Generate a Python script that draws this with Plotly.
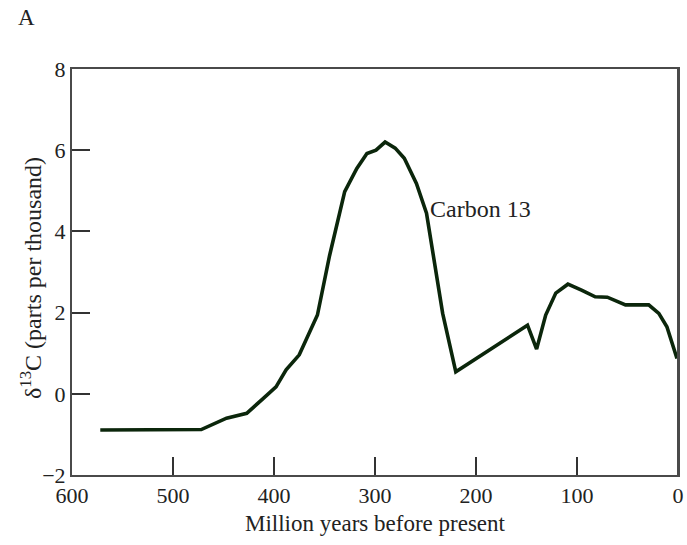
import plotly.graph_objects as go

# Data (million years before present, delta13C per mil)
age_myr = [572, 540, 510, 472, 447, 427, 410, 398, 388, 375, 357, 345, 330, 318, 308, 299, 290, 280, 271, 259, 249, 233, 220, 185, 149, 140, 131, 121, 109, 95, 82, 70, 52, 29, 19, 11, 1]
d13c = [-0.89, -0.89, -0.89, -0.88, -0.6, -0.48, -0.1, 0.17, 0.59, 0.96, 1.94, 3.4, 4.98, 5.55, 5.92, 6.0, 6.2, 6.05, 5.8, 5.18, 4.45, 1.98, 0.54, 1.1, 1.69, 1.1, 1.94, 2.48, 2.7, 2.55, 2.39, 2.38, 2.19, 2.19, 1.98, 1.65, 0.87]

x_ticks = [600, 500, 400, 300, 200, 100, 0]
y_ticks = [-2, 0, 2, 4, 6, 8]

FONT = "Liberation Serif"
TXT = "#222222"
AXIS = "#4a4a4a"

fig = go.Figure()
fig.add_trace(go.Scatter(
    x=age_myr, y=d13c, mode="lines",
    line=dict(color="#0b260b", width=3.6, shape="linear"),
    hoverinfo="skip", showlegend=False,
))

axis_common = dict(
    showline=True, linecolor=AXIS, linewidth=2, mirror=True,
    showgrid=False, zeroline=False, automargin=False,
    ticks="inside", ticklen=18, tickwidth=2, tickcolor="#333333",
    tickfont=dict(family=FONT, size=22, color=TXT),
)

fig.update_xaxes(range=[600, 0], tickvals=x_ticks, ticktext=[str(v) for v in x_ticks], **axis_common)
fig.update_yaxes(range=[-2, 8], tickvals=y_ticks,
                 ticktext=["\u22122" if v < 0 else str(v) for v in y_ticks], **axis_common)

fig.update_layout(
    template="none",
    width=687, height=545,
    margin=dict(l=72, r=9, t=69, b=70, pad=0),
    plot_bgcolor="white", paper_bgcolor="white",
    font=dict(family=FONT, color=TXT),
)

# right frame edge (kept explicit so it is always visible)
fig.add_shape(type="line", xref="paper", yref="paper", x0=1, x1=1, y0=0, y1=1,
              line=dict(color=AXIS, width=2))

# Placement helpers: page pixels -> paper coordinates
plot_l, plot_r, plot_t, plot_b = 72, 678, 69, 475
def px(xp):
    return (xp - plot_l) / (plot_r - plot_l)
def py(yp):
    return (plot_b - yp) / (plot_b - plot_t)

fig.add_annotation(text="Carbon 13", x=px(428), y=py(209), xref="paper", yref="paper",
                   showarrow=False, xanchor="left", yanchor="middle",
                   font=dict(family=FONT, size=24, color=TXT))
fig.add_annotation(text="Million years before present", x=px(375), y=py(523), xref="paper", yref="paper",
                   showarrow=False, xanchor="center", yanchor="middle",
                   font=dict(family=FONT, size=23, color=TXT))
fig.add_annotation(text="\u03b4<sup>13</sup>C (parts per thousand)", x=px(31), y=py(278), xref="paper", yref="paper",
                   showarrow=False, xanchor="center", yanchor="middle", textangle=-90,
                   font=dict(family=FONT, size=24, color=TXT))
fig.add_annotation(text="A", x=px(26), y=py(18), xref="paper", yref="paper",
                   showarrow=False, xanchor="center", yanchor="middle",
                   font=dict(family=FONT, size=23, color=TXT))

fig.write_html("out.html", config={"displayModeBar": False},
               post_script="document.body.style.margin='0';document.body.style.overflow='hidden';")
